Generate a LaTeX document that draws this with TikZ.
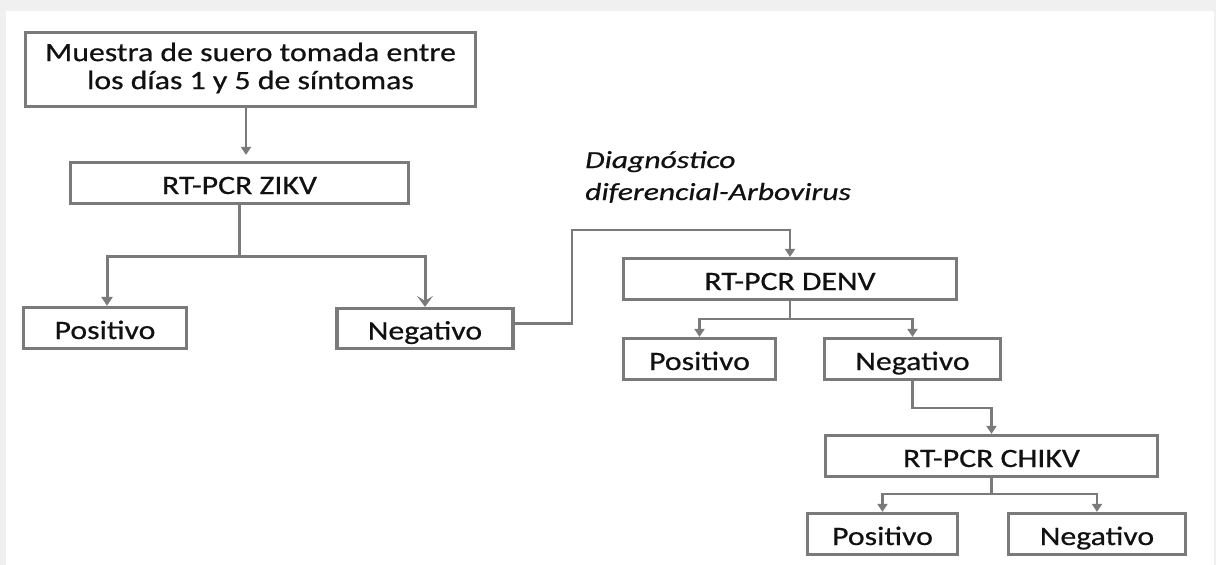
\documentclass[tikz,border=0pt]{standalone}
\usepackage{fontspec}
\setmainfont{Carlito}[FakeBold=0.5]
\usepackage{graphicx}
\usetikzlibrary{arrows.meta,calc}
\definecolor{boxgray}{HTML}{7A7A7A}
\definecolor{txt}{HTML}{111111}
\newcommand\sx[1]{\scalebox{1.2}[1]{#1}}
\tikzset{
  box/.style={draw=boxgray, line width=3.2pt, fill=white, inner sep=0pt,
    text=txt, font=\fontsize{26.5}{28}\selectfont},
  one/.style={box, text height=27pt, text depth=5pt},
  conn/.style={draw=boxgray, line width=3pt},
  thinconn/.style={draw=boxgray, line width=2.7pt},
  smallarr/.style={thinconn, -{Triangle[width=10pt,length=8pt]}},
  bigarr/.style={conn, -{Stealth[width=16pt,length=11pt,inset=5pt]}},
}
\begin{document}
\begin{tikzpicture}[x=1pt,y=-1pt]
\useasboundingbox (0,0) rectangle (1216,565);
% page frame
\fill[black!6] (0,0) rectangle (1216,565);
\fill[white] (6,11) rectangle (1214,565);

% boxes
\node[box, minimum width=450pt, minimum height=74pt] (top) at (250.5,69.5)
  {\sx{\begin{tabular}{@{}c@{}}Muestra de suero tomada entre\\los días 1 y 5 de síntomas\end{tabular}}};
\node[one, minimum width=338pt, minimum height=41pt] (zikv) at (239.5,183) {\sx{RT-PCR ZIKV}};
\node[one, minimum width=163pt, minimum height=41pt] (pos1) at (105,328) {\sx{Positivo}};
\node[one, minimum width=176pt, minimum height=40pt] (neg1) at (425,328.5) {\sx{Negativo}};
\node[one, minimum width=333pt, minimum height=41pt] (denv) at (790,279) {\sx{RT-PCR DENV}};
\node[one, minimum width=152pt, minimum height=41pt] (pos2) at (699.5,359) {\sx{Positivo}};
\node[one, minimum width=176pt, minimum height=41pt] (neg2) at (912.5,359) {\sx{Negativo}};
\node[one, minimum width=332pt, minimum height=41pt] (chikv) at (991.5,456) {\sx{RT-PCR CHIKV}};
\node[one, minimum width=150pt, minimum height=41pt] (pos3) at (882.5,534) {\sx{Positivo}};
\node[one, minimum width=177pt, minimum height=41pt] (neg3) at (1097,534) {\sx{Negativo}};

% label
\node[anchor=base west, inner sep=0pt, text=txt, font=\fontsize{24.5}{32}\selectfont\itshape] (lbl) at (585,168)
  {\scalebox{1.29}[1]{\begin{tabular}[t]{@{}l@{}}Diagnóstico\\diferencial-Arbovirus\end{tabular}}};

% connectors
\coordinate (a1) at (246,0);
\draw[smallarr, shorten >=6pt] (top.south -| a1) -- (zikv.north -| a1);

\coordinate (j1) at (239.5,256);
\draw[conn] (zikv.south) -- (j1);
\draw[conn, -{Triangle[width=11pt,length=9pt]}] (j1) -| ($(pos1.north)+(2,0)$);
\draw[bigarr] (j1) -| (neg1.north);

\coordinate (k1) at (572,230);
\draw[smallarr] ($(neg1.east)+(0,-5)$) -| (k1) -| (denv.north);

\coordinate (j2) at (790,319);
\draw[thinconn] (denv.south) -- (j2);
\draw[smallarr] (j2) -| (pos2.north);
\draw[smallarr] (j2) -| (neg2.north);

\coordinate (j3) at (912.5,408);
\draw[smallarr] (neg2.south) -- (j3) -| (chikv.north);

\coordinate (j4) at (991.5,494);
\draw[thinconn] (chikv.south) -- (j4);
\draw[smallarr] (j4) -| (pos3.north);
\draw[smallarr] (j4) -| (neg3.north);
\end{tikzpicture}
\end{document}
